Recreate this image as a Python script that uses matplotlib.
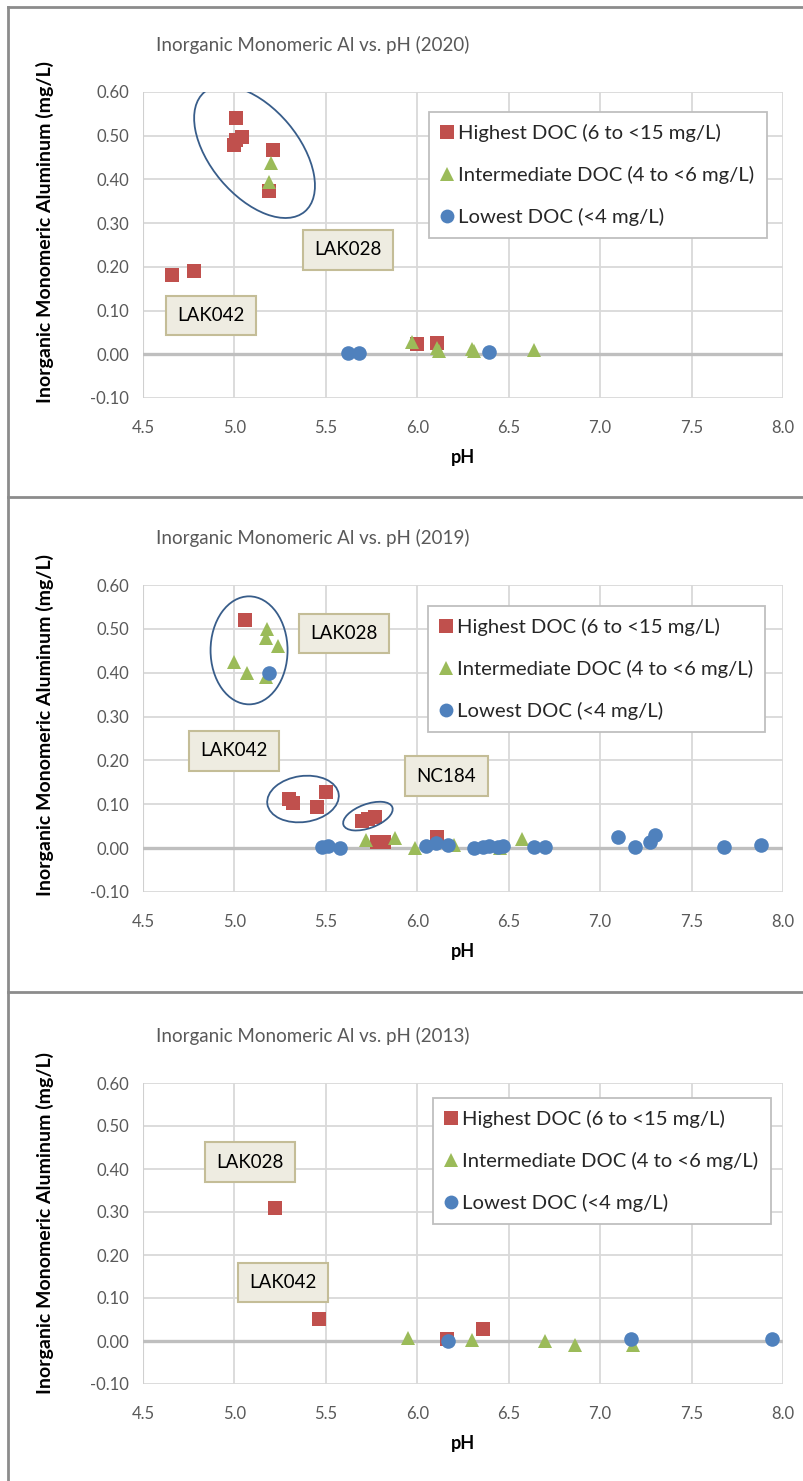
import matplotlib.pyplot as plt
import numpy as np
from matplotlib.patches import Ellipse
from matplotlib.lines import Line2D
from matplotlib.transforms import ScaledTranslation

plt.rcParams['font.family'] = ['Lato', 'DejaVu Sans']

# pH / inorganic monomeric Al (mg/L) by DOC class, per survey year
ph_high_2020 = [4.66, 4.78, 5.01, 5.04, 5.00, 5.01, 5.21, 5.19, 6.00, 6.11]
al_high_2020 = [0.181, 0.190, 0.540, 0.497, 0.478, 0.490, 0.467, 0.374, 0.024, 0.025]
ph_mid_2020 = [5.20, 5.19, 5.97, 6.11, 6.12, 6.30, 6.31, 6.64]
al_mid_2020 = [0.438, 0.394, 0.028, 0.015, 0.008, 0.013, 0.007, 0.009]
ph_low_2020 = [5.62, 5.68, 6.39]
al_low_2020 = [0.002, 0.003, 0.005]

ph_high_2019 = [5.06, 5.30, 5.32, 5.45, 5.50, 5.70, 5.73, 5.77, 5.78, 5.82, 6.11]
al_high_2019 = [0.520, 0.111, 0.104, 0.093, 0.127, 0.062, 0.066, 0.071, 0.014, 0.014, 0.025]
ph_mid_2019 = [4.996, 5.07, 5.17, 5.18, 5.17, 5.24, 5.72, 5.88, 5.99, 6.20, 6.57, 6.45]
al_mid_2019 = [0.424, 0.400, 0.390, 0.500, 0.480, 0.460, 0.018, 0.023, 0.001, 0.007, 0.020, 0.0]
ph_low_2019 = [5.19, 5.48, 5.51, 5.58, 6.05, 6.10, 6.17, 6.31, 6.36, 6.39,
               6.44, 6.47, 6.64, 6.70, 7.10, 7.19, 7.27, 7.30, 7.68, 7.88]
al_low_2019 = [0.400, 0.003, 0.005, 0.001, 0.005, 0.011, 0.007, 0.0, 0.003, 0.005,
               0.002, 0.004, 0.002, 0.002, 0.026, 0.003, 0.014, 0.030, 0.002, 0.007]

ph_high_2013 = [5.22, 5.46, 6.16, 6.36]
al_high_2013 = [0.310, 0.052, 0.004, 0.027]
ph_mid_2013 = [5.95, 6.30, 6.70, 6.86, 7.18]
al_mid_2013 = [0.008, 0.002, 0.001, -0.009, -0.009]
ph_low_2013 = [6.17, 7.17, 7.94]
al_low_2013 = [0.0, 0.004, 0.004]

series_labels = ['Highest DOC (6 to <15 mg/L)',
                 'Intermediate DOC (4 to <6 mg/L)',
                 'Lowest DOC (<4 mg/L)']
x_ticks = [4.5, 5.0, 5.5, 6.0, 6.5, 7.0, 7.5, 8.0]
y_ticks = [-0.1, 0.0, 0.1, 0.2, 0.3, 0.4, 0.5, 0.6]

# site call-outs: (text, pH, Al)
notes_2020 = [('LAK028', 5.62, 0.239), ('LAK042', 4.87, 0.089)]
notes_2019 = [('LAK028', 5.60, 0.489), ('LAK042', 5.00, 0.222), ('NC184', 6.16, 0.164)]
notes_2013 = [('LAK028', 5.085, 0.416), ('LAK042', 5.265, 0.136)]

# circled groups: (pH, Al, width px, height px, angle)
rings_2020 = [(5.11, 0.463, 156, 88, -50)]
rings_2019 = [(5.08, 0.451, 77, 108, 0), (5.375, 0.112, 72, 46, 8), (5.73, 0.073, 52, 24, 20)]
rings_2013 = []

W, H = 804, 1481
fig = plt.figure(figsize=(W / 100, H / 100), dpi=100)

red, green, blue = '#C0504D', '#9BBB59', '#4F81BD'
grey_txt = '#595959'


def px_rect(left, top, right, bottom):
    return [left / W, 1 - bottom / H, (right - left) / W, (bottom - top) / H]


def draw_panel(top, bottom, year, high, mid, low, notes, rings, leg_anchor):
    ax = fig.add_axes(px_rect(143, top, 783, bottom))
    ax.plot(high[0], high[1], 's', color=red, ms=10.5, mew=0, label=series_labels[0], zorder=3)
    ax.plot(mid[0], mid[1], '^', color=green, ms=10.5, mew=0, label=series_labels[1], zorder=4)
    ax.plot(low[0], low[1], 'o', color=blue, ms=10.5, mew=0, label=series_labels[2], zorder=5)

    ax.set_xlim(4.5, 8.0)
    ax.set_ylim(-0.1, 0.6)
    ax.set_xticks(x_ticks)
    ax.set_xticklabels([f'{t:.1f}' for t in x_ticks])
    ax.set_yticks(y_ticks)
    ax.set_yticklabels([f'{t:.2f}' for t in y_ticks])
    ax.tick_params(length=0, labelsize=12, labelcolor=grey_txt)
    ax.tick_params(axis='x', pad=16)
    ax.tick_params(axis='y', pad=10)
    for s in ax.spines.values():
        s.set_visible(False)
    ax.grid(True, color='#D9D9D9', lw=1.3)
    ax.axvline(4.5, color='#D0D0D0', lw=1.5, zorder=1)
    ax.axhline(0, color='#BFBFBF', lw=2.4, zorder=2)
    ax.set_axisbelow(True)

    for txt, x, y in notes:
        ax.text(x, y, txt, ha='center', va='center', fontsize=13.5, color='black', zorder=6,
                bbox=dict(boxstyle='square,pad=0.6', fc='#EEECE1', ec='#C4BD97', lw=1.5))
    for x, y, w, h, ang in rings:
        ax.add_patch(Ellipse((0, 0), w / 100, h / 100, angle=ang, fill=False,
                             ec='#385D8A', lw=1.3, zorder=6,
                             transform=fig.dpi_scale_trans + ScaledTranslation(x, y, ax.transData)))

    leg = ax.legend(loc='upper left', bbox_to_anchor=leg_anchor, fontsize=14.6,
                    frameon=True, fancybox=False, edgecolor='#BFBFBF', framealpha=1,
                    handlelength=0.6, handletextpad=0.25, labelspacing=1.17,
                    borderpad=0.6, borderaxespad=0, markerscale=0.95)
    leg.get_frame().set_linewidth(1.3)
    for t in leg.get_texts():
        t.set_color('#262626')

    fig.text(313 / W, 1 - (top - 47) / H, f'Inorganic Monomeric Al vs. pH ({year})',
             ha='center', va='center', fontsize=13.5, color=grey_txt)
    fig.text(45 / W, 1 - (top + 140) / H, 'Inorganic Monomeric Aluminum (mg/L)',
             rotation=90, ha='center', va='center', fontsize=14, fontweight='bold')
    fig.text(463 / W, 1 - (bottom + 60) / H, 'pH', ha='center', va='center',
             fontsize=13, fontweight='bold')
    return ax


draw_panel(92, 398, 2020, (ph_high_2020, al_high_2020), (ph_mid_2020, al_mid_2020),
           (ph_low_2020, al_low_2020), notes_2020, rings_2020, (0.447, 0.935))
draw_panel(585, 892, 2019, (ph_high_2019, al_high_2019), (ph_mid_2019, al_mid_2019),
           (ph_low_2019, al_low_2019), notes_2019, rings_2019, (0.445, 0.932))
draw_panel(1083, 1384, 2013, (ph_high_2013, al_high_2013), (ph_mid_2013, al_mid_2013),
           (ph_low_2013, al_low_2013), notes_2013, rings_2013, (0.453, 0.95))

# chart frames
frame = '#8C8C8C'
fig.add_artist(Line2D([8 / W, 8 / W], [0, 1 - 7 / H], color=frame, lw=2))
for yy in (7, 497, 992):
    fig.add_artist(Line2D([8 / W, 1], [1 - yy / H, 1 - yy / H], color=frame, lw=2))

fig.savefig('out.png', dpi=100)
